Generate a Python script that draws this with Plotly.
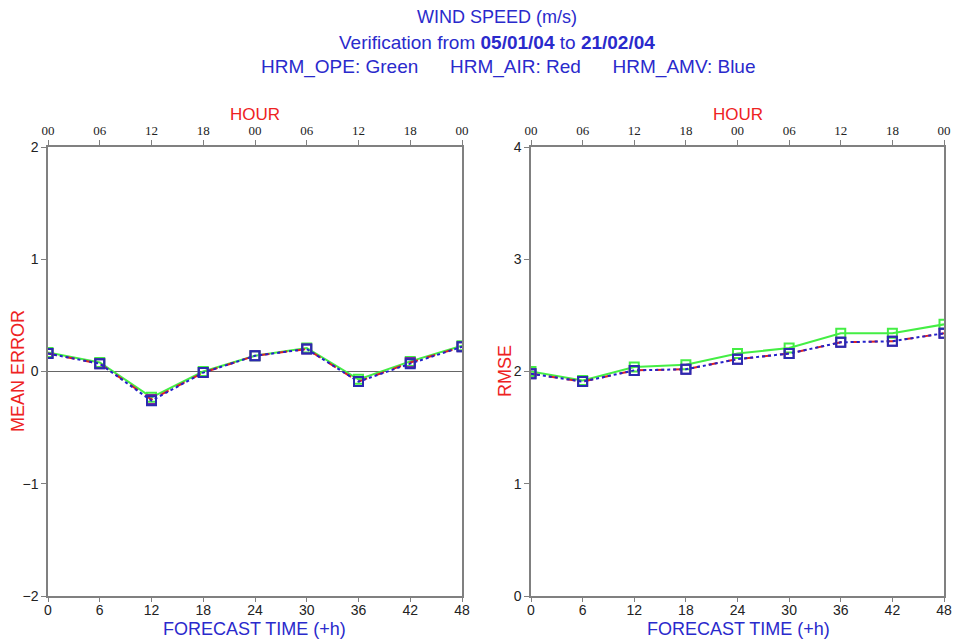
import plotly.graph_objects as go

hours = [0, 6, 12, 18, 24, 30, 36, 42, 48]
hour_labels = ["00", "06", "12", "18", "00", "06", "12", "18", "00"]

me_ope = [0.17, 0.08, -0.23, 0.00, 0.14, 0.21, -0.07, 0.09, 0.23]
me_air = [0.16, 0.07, -0.25, -0.01, 0.14, 0.20, -0.09, 0.08, 0.22]
me_amv = [0.16, 0.07, -0.26, -0.01, 0.14, 0.20, -0.09, 0.07, 0.22]

rmse_ope = [2.00, 1.92, 2.04, 2.06, 2.16, 2.21, 2.34, 2.34, 2.42]
rmse_air = [1.98, 1.91, 2.01, 2.02, 2.11, 2.16, 2.26, 2.27, 2.34]
rmse_amv = [1.98, 1.91, 2.01, 2.02, 2.11, 2.16, 2.26, 2.27, 2.34]

GREEN = "#44ee44"
RED = "#dd2222"
BLUE = "#2222cc"
AXC = "#808080"
TITLEC = "#2a2acc"
REDT = "#ee2222"

fig = go.Figure()

def add_series(xa, ya, vals, color, dash, mcolor):
    fig.add_trace(go.Scatter(
        x=hours, y=vals, xaxis=xa, yaxis=ya, mode="lines+markers",
        line=dict(color=color, width=2, dash=dash),
        marker=dict(symbol="square-open", size=9, color=mcolor, line=dict(width=2, color=mcolor)),
        showlegend=False, hoverinfo="x+y"))

add_series("x", "y", me_ope, GREEN, "solid", GREEN)
add_series("x", "y", me_air, RED, "dash", "#7a2a9a")
add_series("x", "y", me_amv, BLUE, "dot", "#2a2ab0")
add_series("x2", "y2", rmse_ope, GREEN, "solid", GREEN)
add_series("x2", "y2", rmse_air, RED, "dash", "#7a2a9a")
add_series("x2", "y2", rmse_amv, BLUE, "dot", "#2a2ab0")

# invisible traces to anchor top hour axes
fig.add_trace(go.Scatter(x=hours, y=[None]*len(hours), xaxis="x3", yaxis="y", showlegend=False, hoverinfo="skip"))
fig.add_trace(go.Scatter(x=hours, y=[None]*len(hours), xaxis="x4", yaxis="y2", showlegend=False, hoverinfo="skip"))

yb, yt = (641 - 596) / 641, (641 - 147) / 641
d1 = [48 / 958, 462 / 958]
d2 = [531 / 958, 944 / 958]

xcommon = dict(range=[0, 48], tickvals=hours, ticks="outside", ticklen=4, tickcolor=AXC,
               showline=True, linecolor=AXC, linewidth=1.5, showgrid=False, zeroline=False,
               automargin=False, ticklabelstandoff=-4,
               tickfont=dict(family="Liberation Sans, Arial", size=14, color="#222"))
topcommon = dict(range=[0, 48], tickvals=hours, ticktext=hour_labels, ticks="outside", ticklen=5,
                 tickcolor=AXC, side="top", showline=True, linecolor=AXC, linewidth=1.5,
                 showgrid=False, zeroline=False, automargin=False,
                 tickfont=dict(family="Liberation Serif, Times New Roman", size=13, color="#222"))
ycommon = dict(ticks="outside", ticklen=5, tickcolor=AXC, showline=True, linecolor=AXC,
               linewidth=1.5, mirror=True, showgrid=False, automargin=False,
               tickfont=dict(family="Liberation Sans, Arial", size=14, color="#222"))

fig.update_layout(
    width=958, height=641,
    margin=dict(l=0, r=0, t=0, b=0, pad=0, autoexpand=False),
    paper_bgcolor="white", plot_bgcolor="white",
    xaxis=dict(domain=d1, anchor="y", **xcommon),
    xaxis2=dict(domain=d2, anchor="y2", **xcommon),
    xaxis3=dict(overlaying="x", anchor="y", **topcommon),
    xaxis4=dict(overlaying="x2", anchor="y2", **topcommon),
    yaxis=dict(domain=[yb, yt], anchor="x", range=[-2, 2], tickvals=[-2, -1, 0, 1, 2],
               zeroline=True, zerolinecolor="#666", zerolinewidth=1, **ycommon),
    yaxis2=dict(domain=[yb, yt], anchor="x2", range=[0, 4], tickvals=[0, 1, 2, 3, 4],
                zeroline=False, **ycommon),
)

ann = []
tf = "Liberation Sans, Arial"
cxt = 497 / 958
ann.append(dict(x=cxt, y=17, text="WIND SPEED (m/s)", font=dict(size=18, color=TITLEC, family=tf)))
ann.append(dict(x=cxt, y=43, text="Verification from <b>05/01/04</b> to <b>21/02/04</b>",
                font=dict(size=19, color=TITLEC, family=tf)))
ann.append(dict(x=508 / 958, y=67,
                text="HRM_OPE: Green &nbsp;&nbsp;&nbsp;&nbsp; HRM_AIR: Red &nbsp;&nbsp;&nbsp;&nbsp; HRM_AMV: Blue",
                font=dict(size=19, color=TITLEC, family=tf)))
for cx in [255, 738]:
    ann.append(dict(x=cx / 958, y=114, text="HOUR", font=dict(size=17, color=REDT, family=tf)))
    ann.append(dict(x=cx / 958, y=629, text="FORECAST TIME (+h)", font=dict(size=18, color=TITLEC, family=tf)))
annots = []
for a in ann:
    annots.append(dict(x=a["x"], y=1 - a["y"] / 641, xref="paper", yref="paper", text=a["text"],
                       showarrow=False, font=a["font"], xanchor="center", yanchor="middle"))
annots.append(dict(x=18 / 958, y=1 - 371 / 641, xref="paper", yref="paper", text="MEAN ERROR",
                   textangle=-90, showarrow=False, font=dict(size=18, color=REDT, family=tf),
                   xanchor="center", yanchor="middle"))
annots.append(dict(x=505 / 958, y=1 - 371 / 641, xref="paper", yref="paper", text="RMSE",
                   textangle=-90, showarrow=False, font=dict(size=18, color=REDT, family=tf),
                   xanchor="center", yanchor="middle"))
fig.update_layout(annotations=annots)

fig.write_html("out.html", config={"displayModeBar": False},
               post_script="document.body.style.margin='0';")
